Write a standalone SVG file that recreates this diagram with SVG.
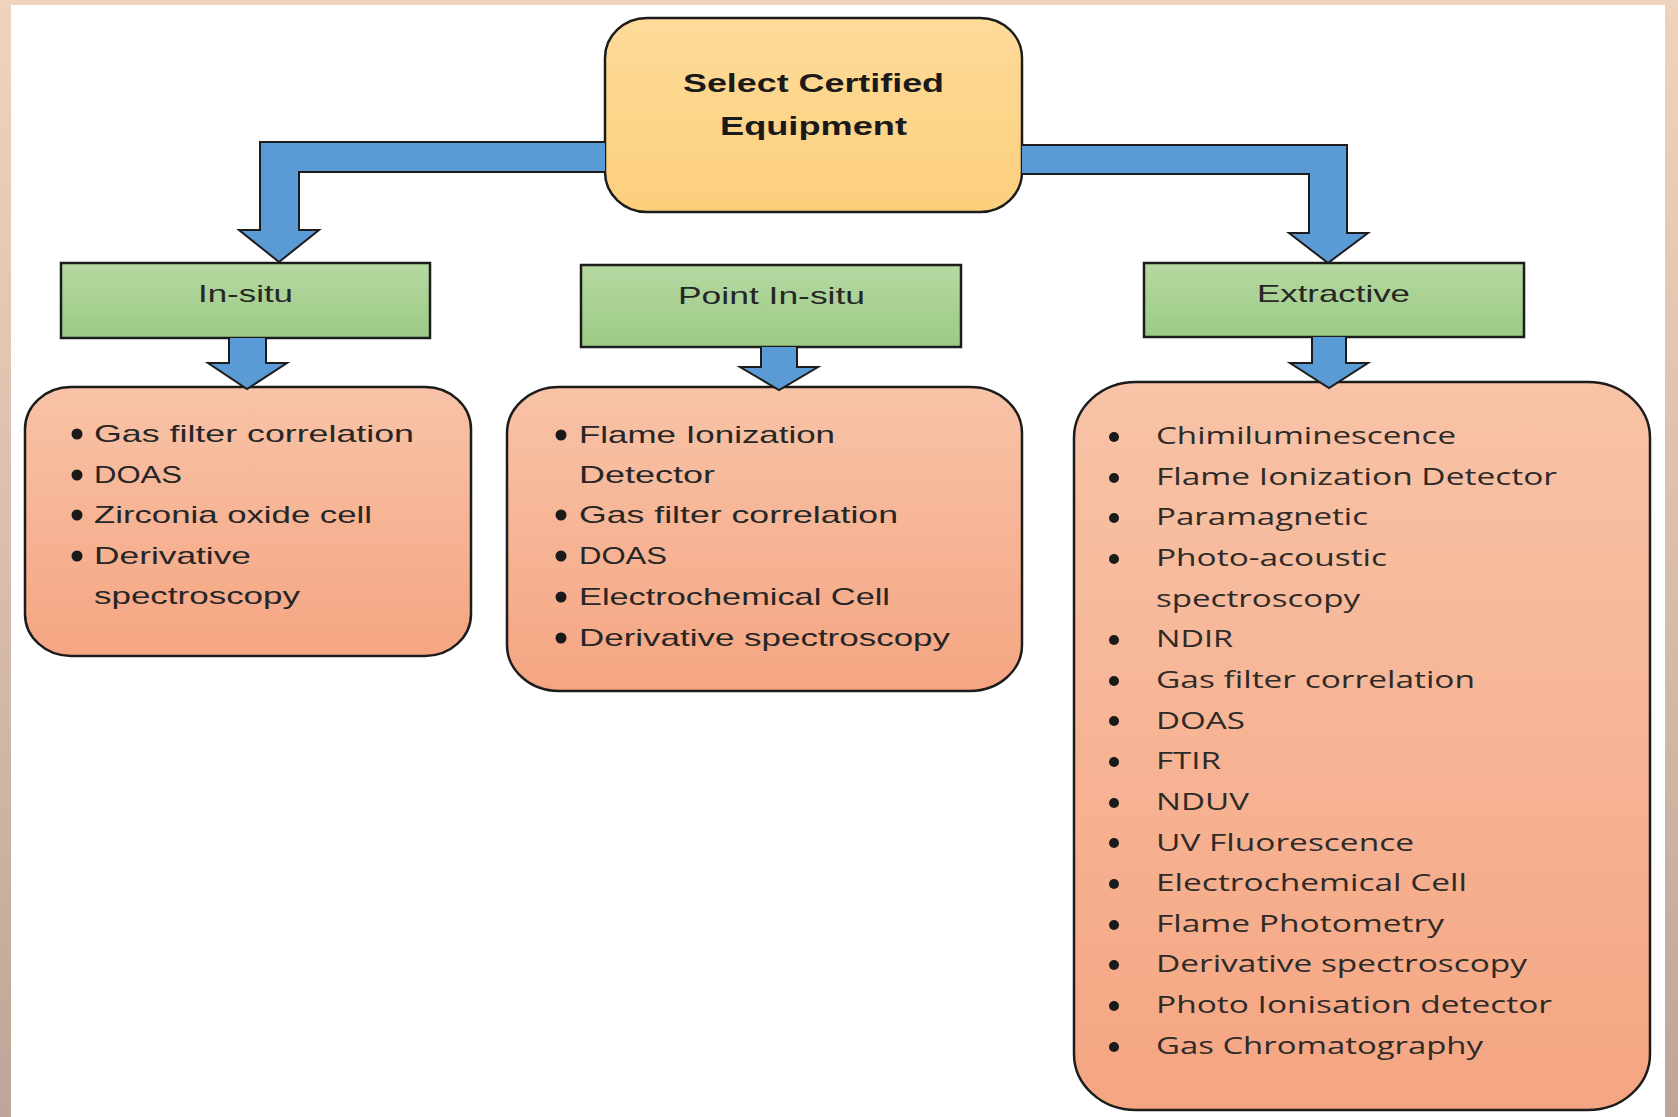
<svg xmlns="http://www.w3.org/2000/svg" width="1678" height="1117" viewBox="0 0 1678 1117">
<defs>
<linearGradient id="bg" x1="0" y1="0" x2="0" y2="1">
<stop offset="0" stop-color="#F0D3BD"/>
<stop offset="0.5" stop-color="#D9BEAC"/>
<stop offset="1" stop-color="#BDA698"/>
</linearGradient>
<linearGradient id="gYellow" x1="0" y1="0" x2="0" y2="1">
<stop offset="0" stop-color="#FEDB9A"/>
<stop offset="1" stop-color="#FCCF7C"/>
</linearGradient>
<linearGradient id="gGreen" x1="0" y1="0" x2="0" y2="1">
<stop offset="0" stop-color="#B6D9A2"/>
<stop offset="1" stop-color="#9BCA84"/>
</linearGradient>
<linearGradient id="gSalmon" x1="0" y1="0" x2="0" y2="1">
<stop offset="0" stop-color="#F8C3A7"/>
<stop offset="1" stop-color="#F5A582"/>
</linearGradient>
</defs>
<style>
.yel{fill:url(#gYellow);stroke:#1c1c1c;stroke-width:2.5}
.grn{fill:url(#gGreen);stroke:#1c1c1c;stroke-width:2.5}
.sal{fill:url(#gSalmon);stroke:#1c1c1c;stroke-width:2.5}
.arr{fill:#5B9BD5;stroke:#1c1c1c;stroke-width:2;stroke-linejoin:miter}
.t{font-family:"Liberation Sans",Arial,sans-serif;font-size:24px;fill:#262626}
.tb{font-family:"Liberation Sans",Arial,sans-serif;font-size:25px;font-weight:bold;fill:#1a1a1a}
.te{font-family:"Open Sans","DejaVu Sans",sans-serif;font-size:24px;fill:#2e2a28}
.b{fill:#1a1a1a}
</style>
<rect x="0" y="0" width="1678" height="1117" fill="url(#bg)"/>
<rect x="11" y="5" width="1654" height="1112" fill="#FFFFFF"/>

<g id="node-select">
<rect class="yel" x="605" y="18" width="417" height="194" rx="42" ry="40"/>
<text class="tb" x="683" y="92" textLength="261" lengthAdjust="spacingAndGlyphs">Select Certified</text>
<text class="tb" x="720" y="135" textLength="187" lengthAdjust="spacingAndGlyphs">Equipment</text>
</g>

<g id="node-insitu">
<rect class="grn" x="61" y="263" width="369" height="75"/>
<text class="t" x="198" y="302" textLength="95" lengthAdjust="spacingAndGlyphs">In-situ</text>
</g>

<g id="node-point">
<rect class="grn" x="581" y="265" width="380" height="82"/>
<text class="t" x="678" y="304" textLength="187" lengthAdjust="spacingAndGlyphs">Point In-situ</text>
</g>

<g id="node-extractive">
<rect class="grn" x="1144" y="263" width="380" height="74"/>
<text class="t" x="1257" y="302" textLength="153" lengthAdjust="spacingAndGlyphs">Extractive</text>
</g>

<g id="list-insitu">
<rect class="sal" x="25" y="387" width="446" height="269" rx="46" ry="42"/>
<circle class="b" cx="77" cy="434" r="5.5"/>
<text class="t" x="94" y="442" textLength="320" lengthAdjust="spacingAndGlyphs">Gas filter correlation</text>
<circle class="b" cx="77" cy="475" r="5.5"/>
<text class="t" x="94" y="483" textLength="88" lengthAdjust="spacingAndGlyphs">DOAS</text>
<circle class="b" cx="77" cy="515" r="5.5"/>
<text class="t" x="94" y="523" textLength="278" lengthAdjust="spacingAndGlyphs">Zirconia oxide cell</text>
<circle class="b" cx="77" cy="556" r="5.5"/>
<text class="t" x="94" y="564" textLength="157" lengthAdjust="spacingAndGlyphs">Derivative</text>
<text class="t" x="94" y="604" textLength="206" lengthAdjust="spacingAndGlyphs">spectroscopy</text>
</g>

<g id="list-point">
<rect class="sal" x="507" y="387" width="515" height="304" rx="52" ry="46"/>
<circle class="b" cx="561" cy="435" r="5.5"/>
<text class="t" x="579" y="443" textLength="256" lengthAdjust="spacingAndGlyphs">Flame Ionization</text>
<text class="t" x="579" y="483" textLength="136" lengthAdjust="spacingAndGlyphs">Detector</text>
<circle class="b" cx="561" cy="515" r="5.5"/>
<text class="t" x="579" y="523" textLength="319" lengthAdjust="spacingAndGlyphs">Gas filter correlation</text>
<circle class="b" cx="561" cy="556" r="5.5"/>
<text class="t" x="579" y="564" textLength="88" lengthAdjust="spacingAndGlyphs">DOAS</text>
<circle class="b" cx="561" cy="597" r="5.5"/>
<text class="t" x="579" y="605" textLength="311" lengthAdjust="spacingAndGlyphs">Electrochemical Cell</text>
<circle class="b" cx="561" cy="638" r="5.5"/>
<text class="t" x="579" y="646" textLength="371" lengthAdjust="spacingAndGlyphs">Derivative spectroscopy</text>
</g>

<g id="list-extractive">
<rect class="sal" x="1074" y="382" width="576" height="728" rx="62" ry="56"/>
<circle class="b" cx="1114" cy="437" r="5"/>
<text class="te" x="1156" y="444" textLength="300" lengthAdjust="spacingAndGlyphs">Chimiluminescence</text>
<circle class="b" cx="1114" cy="478" r="5"/>
<text class="te" x="1156" y="485" textLength="401" lengthAdjust="spacingAndGlyphs">Flame Ionization Detector</text>
<circle class="b" cx="1114" cy="518" r="5"/>
<text class="te" x="1156" y="525" textLength="212" lengthAdjust="spacingAndGlyphs">Paramagnetic</text>
<circle class="b" cx="1114" cy="559" r="5"/>
<text class="te" x="1156" y="566" textLength="231" lengthAdjust="spacingAndGlyphs">Photo-acoustic</text>
<text class="te" x="1156" y="607" textLength="204" lengthAdjust="spacingAndGlyphs">spectroscopy</text>
<circle class="b" cx="1114" cy="640" r="5"/>
<text class="te" x="1156" y="647" textLength="77" lengthAdjust="spacingAndGlyphs">NDIR</text>
<circle class="b" cx="1114" cy="681" r="5"/>
<text class="te" x="1156" y="688" textLength="319" lengthAdjust="spacingAndGlyphs">Gas filter correlation</text>
<circle class="b" cx="1114" cy="721" r="5"/>
<text class="te" x="1156" y="729" textLength="89" lengthAdjust="spacingAndGlyphs">DOAS</text>
<circle class="b" cx="1114" cy="762" r="5"/>
<text class="te" x="1156" y="769" textLength="65" lengthAdjust="spacingAndGlyphs">FTIR</text>
<circle class="b" cx="1114" cy="803" r="5"/>
<text class="te" x="1156" y="810" textLength="93" lengthAdjust="spacingAndGlyphs">NDUV</text>
<circle class="b" cx="1114" cy="843" r="5"/>
<text class="te" x="1156" y="851" textLength="258" lengthAdjust="spacingAndGlyphs">UV Fluorescence</text>
<circle class="b" cx="1114" cy="884" r="5"/>
<text class="te" x="1156" y="891" textLength="311" lengthAdjust="spacingAndGlyphs">Electrochemical Cell</text>
<circle class="b" cx="1114" cy="925" r="5"/>
<text class="te" x="1156" y="932" textLength="288" lengthAdjust="spacingAndGlyphs">Flame Photometry</text>
<circle class="b" cx="1114" cy="965" r="5"/>
<text class="te" x="1156" y="972" textLength="371" lengthAdjust="spacingAndGlyphs">Derivative spectroscopy</text>
<circle class="b" cx="1114" cy="1006" r="5"/>
<text class="te" x="1156" y="1013" textLength="396" lengthAdjust="spacingAndGlyphs">Photo Ionisation detector</text>
<circle class="b" cx="1114" cy="1047" r="5"/>
<text class="te" x="1156" y="1054" textLength="327" lengthAdjust="spacingAndGlyphs">Gas Chromatography</text>
</g>

<g id="connectors">
<path class="arr" d="M605,142 L260,142 L260,230 L239,230 L279,262 L319,230 L299,230 L299,172 L605,172"/>
<path class="arr" d="M1022,145 L1347,145 L1347,233 L1368,233 L1328,263 L1289,233 L1309,233 L1309,174 L1022,174"/>
<path class="arr" d="M229,338 L229,363 L208,363 L247,389 L287,363 L266,363 L266,338"/>
<path class="arr" d="M761,347 L761,367 L740,367 L779,390 L818,367 L797,367 L797,347"/>
<path class="arr" d="M1312,337 L1312,363 L1290,363 L1329,388 L1368,363 L1346,363 L1346,337"/>
</g>
</svg>
